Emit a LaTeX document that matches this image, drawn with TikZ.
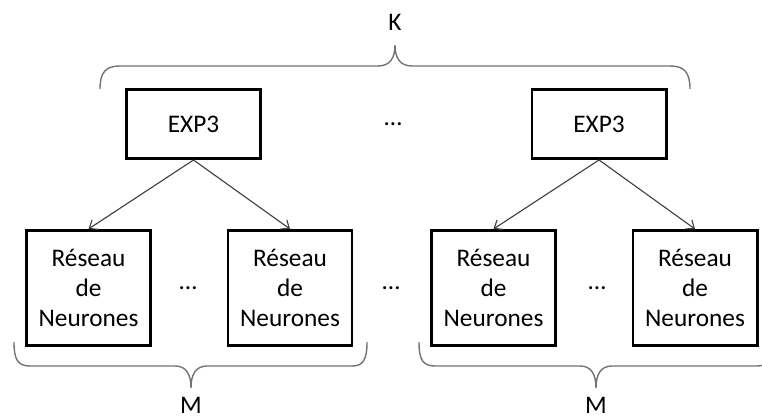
\documentclass[tikz,border=0pt]{standalone}
\usepackage{fontspec}
\setmainfont{Carlito}
\usepackage{xcolor}
\usepackage{tikz}
\usetikzlibrary{arrows.meta}
\begin{document}
\begin{tikzpicture}[
  x=0.025cm, y=-0.025cm,
  font=\fontsize{18}{21.5}\selectfont
]
\tikzset{
    expbox/.style = {rectangle, draw=black, line width=2.1pt, align=center, minimum width=3.35cm, minimum height=1.725cm},
    netbox/.style = {rectangle, draw=black, line width=2.1pt, align=center, minimum width=3.1cm, minimum height=2.875cm, inner sep=0pt},
    link/.style = {draw=black!75, line width=0.8pt, -{Straight Barb[length=5pt,width=8pt]}},
    brace/.style = {draw=black!55, line width=1pt},
}
\clip (0,0) rectangle (762,420);
\node[expbox] (exp1) at (193.5,124) {EXP3};
\node[expbox] (exp2) at (599,124) {EXP3};
\node (dotsk) at (393,124) {…};
\node[netbox] (net11) at (88.5,288) {Réseau\\de\\Neurones};
\node[netbox] (net12) at (290,288) {Réseau\\de\\Neurones};
\node[netbox] (net21) at (493.5,288) {Réseau\\de\\Neurones};
\node[netbox] (net22) at (695,288) {Réseau\\de\\Neurones};
\node (dots1) at (188,288) {…};
\node (dots0) at (391,288) {…};
\node (dots2) at (597,288) {…};
\draw[link] (exp1.south) -- (net11.north);
\draw[link] (exp1.south) -- (net12.north);
\draw[link] (exp2.south) -- (net21.north);
\draw[link] (exp2.south) -- (net22.north);
\draw[brace] (100,89) .. controls (100,72) and (106,66) .. (120,66) -- (378,66)
  .. controls (390,66) and (395,58) .. (395,45) .. controls (395,58) and (400,66) .. (412,66)
  -- (670,66) .. controls (684,66) and (690,72) .. (690,89);
\node (k) at (395,22) {K};
\draw[brace] (14,342) .. controls (14,360) and (18,366) .. (30,366) -- (175,366)
  .. controls (186,366) and (191,374) .. (191,388) .. controls (191,374) and (196,366) .. (207,366)
  -- (352,366) .. controls (363,366) and (367,360) .. (367,342);
\node (m1) at (191,405) {M};
\draw[brace] (419,342) .. controls (419,360) and (423,366) .. (435,366) -- (580,366)
  .. controls (591,366) and (596,374) .. (596,388) .. controls (596,374) and (601,366) .. (612,366)
  -- (757,366) .. controls (768,366) and (772,360) .. (772,342);
\node (m2) at (596,405) {M};
\end{tikzpicture}
\end{document}
